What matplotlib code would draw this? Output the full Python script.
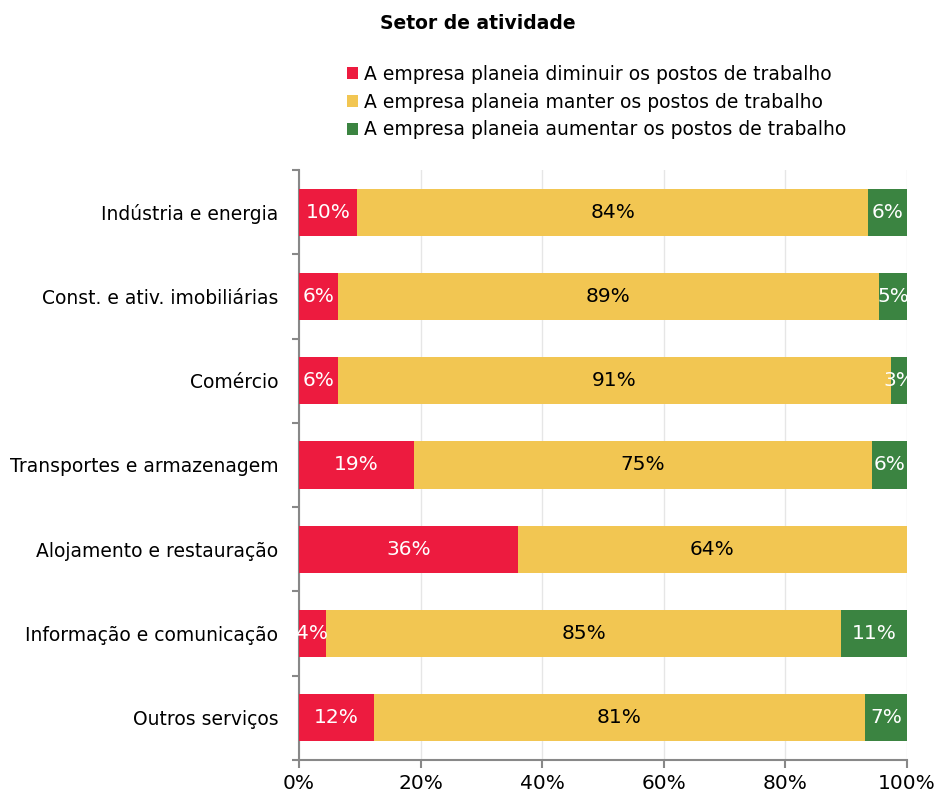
import matplotlib
matplotlib.use("Agg")
import matplotlib.pyplot as plt
import numpy as np
from matplotlib.patches import Patch

categories = ["Indústria e energia", "Const. e ativ. imobiliárias", "Comércio",
              "Transportes e armazenagem", "Alojamento e restauração",
              "Informação e comunicação", "Outros serviços"]
diminuir = [9.6, 6.4, 6.4, 18.9, 36.0, 4.4, 12.3]
manter = [84.0, 89.0, 91.0, 75.3, 64.0, 84.8, 80.8]
aumentar = [6.4, 4.6, 2.6, 5.8, 0.0, 10.8, 6.9]
series_names = ["A empresa planeia diminuir os postos de trabalho",
                "A empresa planeia manter os postos de trabalho",
                "A empresa planeia aumentar os postos de trabalho"]
title = "Setor de atividade"
xticks = [0, 20, 40, 60, 80, 100]

colors = ["#ED1B3F", "#F2C652", "#3B8441"]
text_colors = ["white", "black", "white"]

plt.rcParams['font.family'] = ['DejaVu Sans']
fig = plt.figure(figsize=(9.35, 8), dpi=100)
ax = fig.add_axes([0.3198, 0.05, 0.970 - 0.3198, 0.7375])

y = np.arange(len(categories))
left = np.zeros(len(categories))
for vals, c, tc in zip([diminuir, manter, aumentar], colors, text_colors):
    vals = np.array(vals)
    ax.barh(y, vals, left=left, height=0.56, color=c, zorder=3)
    for yi, l, v in zip(y, left, vals):
        if v > 0:
            ax.text(l + v / 2, yi, f"{round(v):d}%", ha="center", va="center",
                    color=tc, fontsize=14.5, zorder=4)
    left = left + vals

ax.set_ylim(len(categories) - 0.5, -0.5)
ax.set_xlim(0, 100)
ax.set_yticks(y)
ax.set_yticklabels(categories, fontsize=13.5)
ax.tick_params(axis="y", which="major", length=0, pad=15)
ax.set_yticks(np.arange(len(categories) + 1) - 0.5, minor=True)
ax.tick_params(axis="y", which="minor", length=5, color="#888888", width=1.5)
ax.set_xticks(xticks)
ax.set_xticklabels([f"{t}%" for t in xticks], fontsize=14.5)
ax.tick_params(axis="x", length=6, color="#888888", width=1.5, pad=4)
ax.grid(axis="x", color="#E6E6E6", linewidth=1, zorder=0)
for s in ["top", "right"]:
    ax.spines[s].set_visible(False)
for s in ["left", "bottom"]:
    ax.spines[s].set_color("#888888")
    ax.spines[s].set_linewidth(1.5)

fig.text(0.511, 0.971, title, ha="center", va="center", fontsize=13.5, fontweight="bold")
handles = [Patch(facecolor=c, edgecolor="none") for c in colors]
fig.legend(handles, series_names, loc="upper left", bbox_to_anchor=(0.371, 0.919),
           frameon=False, fontsize=13.5, handlelength=0.6, handleheight=0.6,
           handletextpad=0.3, labelspacing=0.47, borderpad=0, borderaxespad=0)

fig.savefig("out.png", dpi=100)
